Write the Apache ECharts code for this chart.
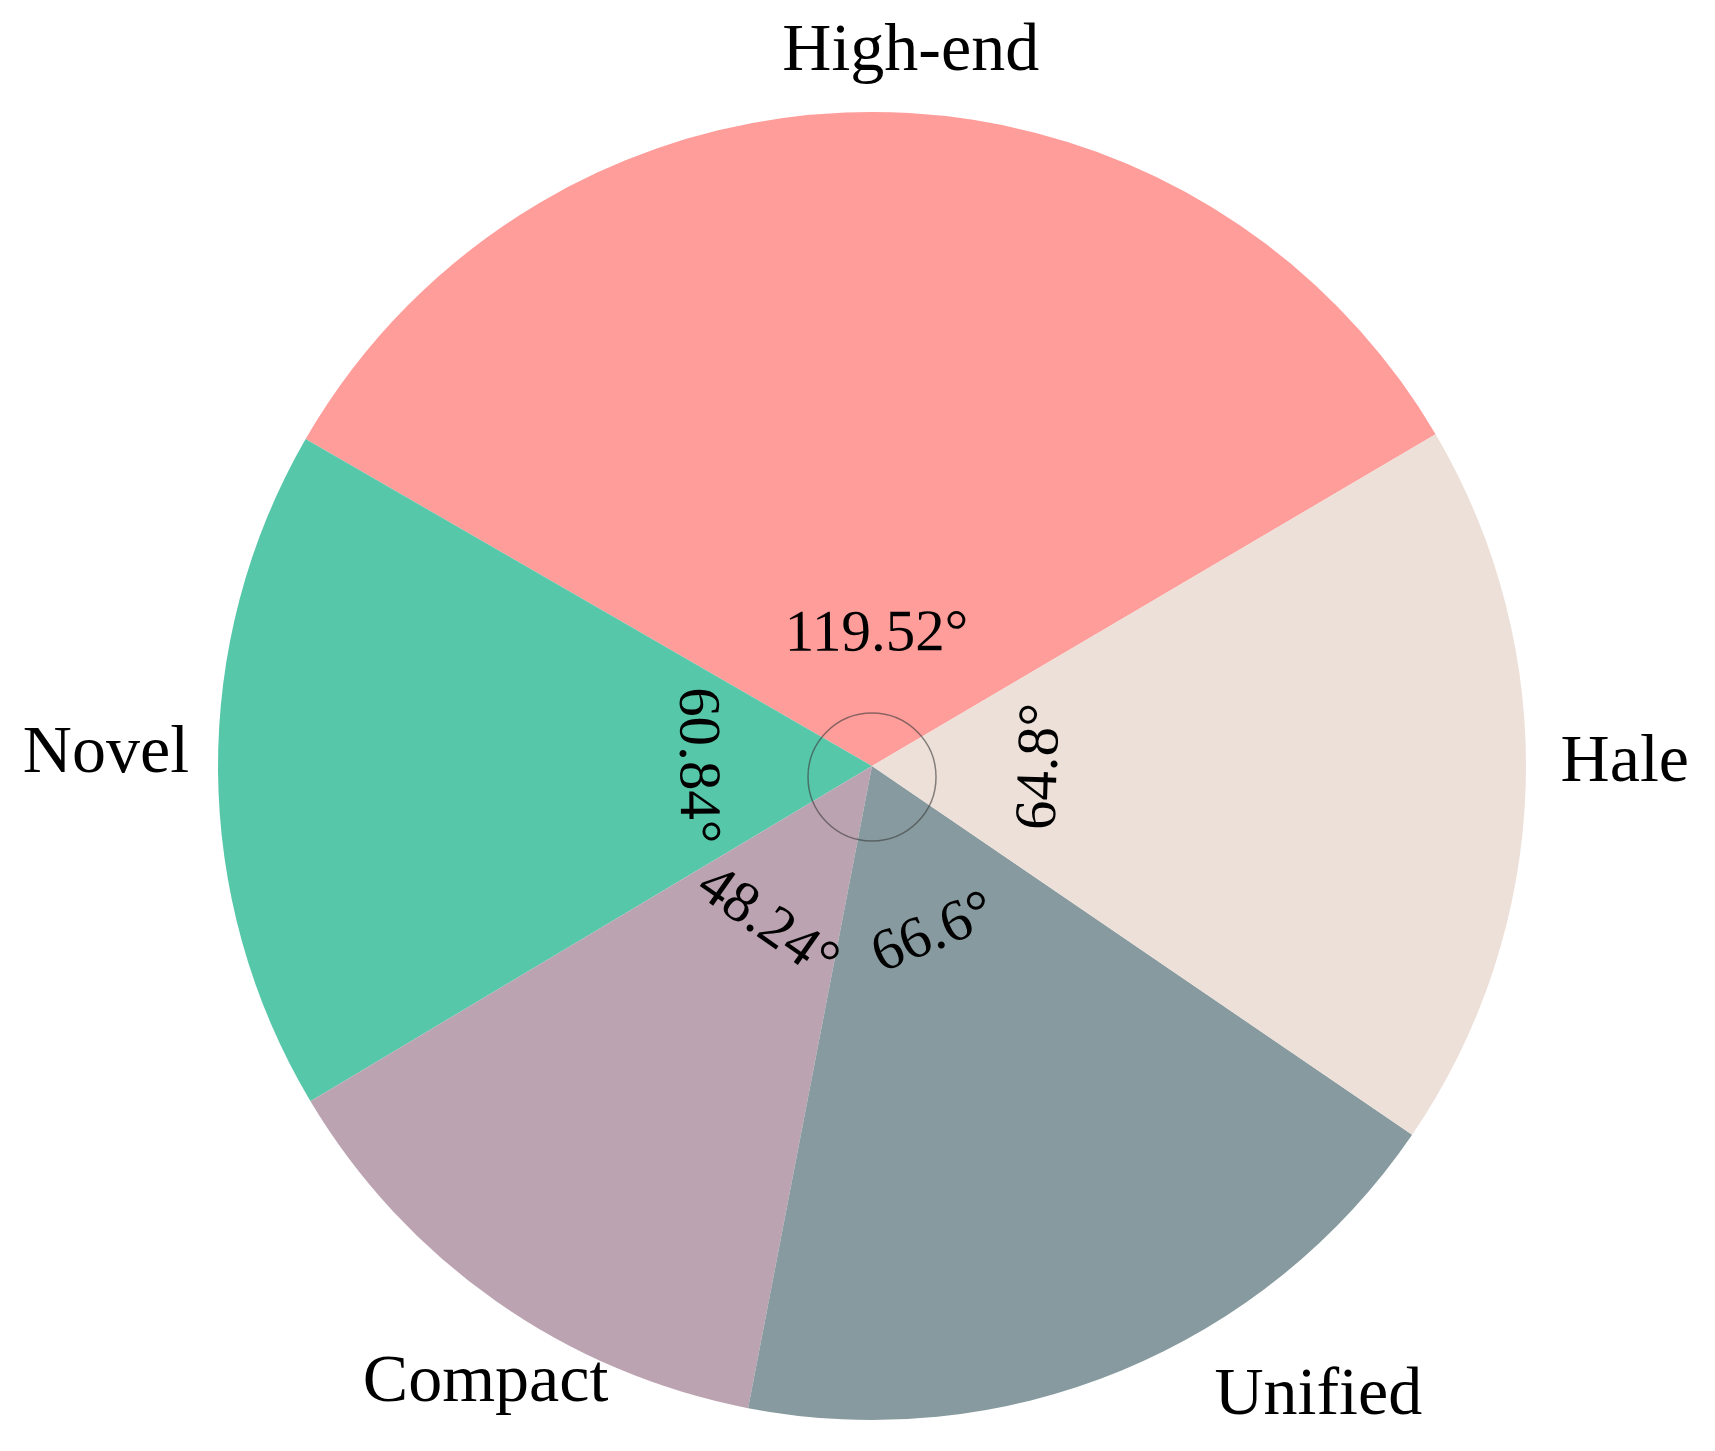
<!DOCTYPE html>
<html>
<head>
<meta charset="utf-8">
<script src="https://cdn.jsdelivr.net/npm/echarts@6/dist/echarts.min.js"></script>
<style>html,body{margin:0;padding:0;background:#fff;}#c{width:1715px;height:1451px;}</style>
</head>
<body>
<div id="c"></div>
<script>
// Data
const categories = ['High-end', 'Novel', 'Compact', 'Unified', 'Hale'];
const angles = [119.52, 60.84, 48.24, 66.6, 64.8];
const colors = ['#FF9D9A', '#57C7AA', '#BCA3B1', '#879A9F', '#EDE0D8'];

// Label tweaks (px, in each label's own rotated frame) to match reference placement
const nameShift = [[175, -30], [6, -17], [134, 57], [77, -2], [0, -26]];
const valueShift = [[5, 37], [-2, 8], [5, 22], [-7, 11], [5, 1]];

const cx = 872, cy = 766, R = 654;
const font = '"Liberation Serif", "Times New Roman", serif';

const chart = echarts.init(document.getElementById('c'), null, {renderer: 'canvas'});
const pieData = categories.map((n, i) => ({name: n, value: angles[i], itemStyle: {color: colors[i]}}));

chart.setOption({
  backgroundColor: '#ffffff',
  animation: false,
  series: [
    {
      type: 'pie',
      center: [cx, cy],
      radius: [0, R],
      startAngle: 30.48,
      clockwise: false,
      avoidLabelOverlap: false,
      silent: true,
      data: pieData,
      itemStyle: {borderWidth: 0},
      label: {
        show: true, position: 'outside', formatter: '{b}',
        fontFamily: font, fontSize: 68, color: '#000'
      },
      labelLine: {show: false, length: 30, length2: 0},
      labelLayout: function (p) {
        const s = nameShift[p.dataIndex];
        return {dx: s[0], dy: s[1]};
      }
    },
    {
      type: 'pie',
      center: [cx, cy],
      radius: [0, 330],
      startAngle: 30.48,
      clockwise: false,
      avoidLabelOverlap: false,
      silent: true,
      data: categories.map((n, i) => ({name: n, value: angles[i]})),
      itemStyle: {color: 'rgba(0,0,0,0)', borderWidth: 0},
      label: {
        show: true, position: 'inside', rotate: 'tangential',
        formatter: function (p) { return p.value + '°'; },
        fontFamily: font, fontSize: 59, color: '#000'
      },
      labelLine: {show: false},
      labelLayout: function (p) {
        const s = valueShift[p.dataIndex];
        return {dx: s[0], dy: s[1]};
      }
    }
  ],
  graphic: [{
    type: 'circle',
    shape: {cx: cx, cy: cy + 11, r: 64},
    style: {fill: 'none', stroke: 'rgba(60,60,60,0.6)', lineWidth: 1.5},
    z: 100
  }]
});
</script>
</body>
</html>
